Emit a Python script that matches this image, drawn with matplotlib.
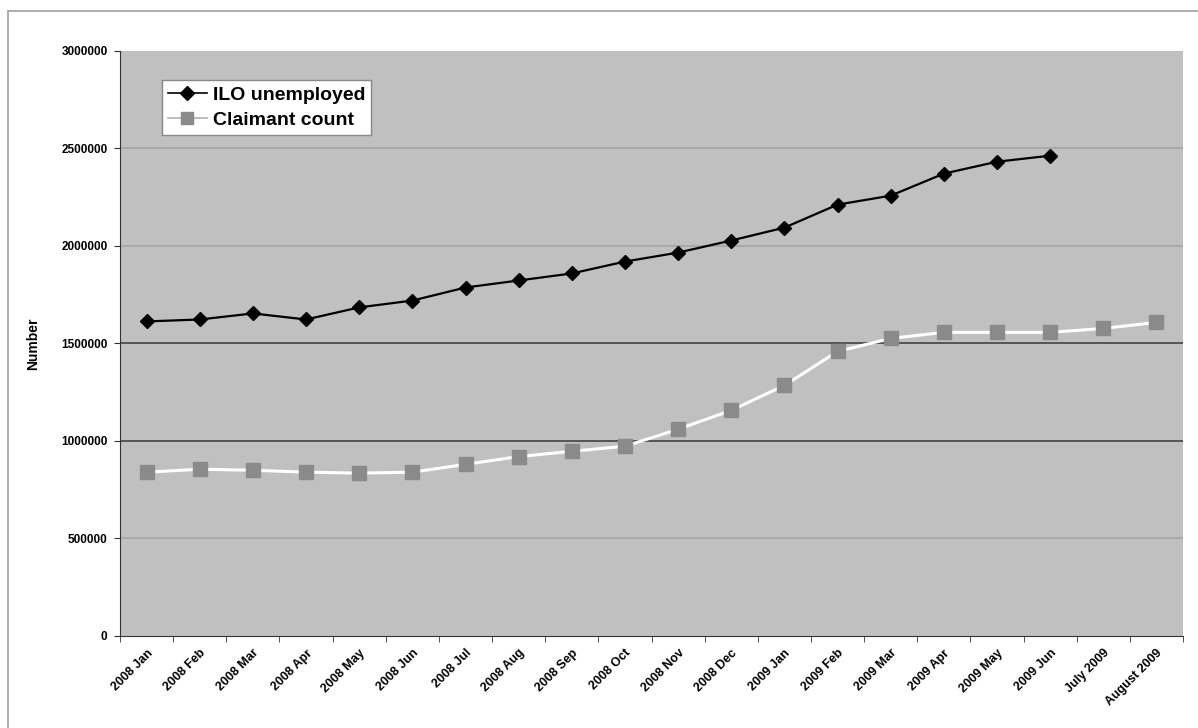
import numpy as np
import matplotlib.pyplot as plt
import matplotlib as mpl
from matplotlib.lines import Line2D

mpl.rcParams.update({'font.family': ['Liberation Sans', 'DejaVu Sans']})

months = ['2008 Jan', '2008 Feb', '2008 Mar', '2008 Apr', '2008 May', '2008 Jun',
          '2008 Jul', '2008 Aug', '2008 Sep', '2008 Oct', '2008 Nov', '2008 Dec',
          '2009 Jan', '2009 Feb', '2009 Mar', '2009 Apr', '2009 May', '2009 Jun',
          'July 2009', 'August 2009']

ilo = [1613000, 1623000, 1654000, 1623000, 1685000, 1720000, 1787000, 1823000,
       1859000, 1920000, 1966000, 2028000, 2094000, 2212000, 2258000, 2371000,
       2432000, 2463000, np.nan, np.nan]

claimant = [840000, 855000, 850000, 840000, 835000, 840000, 880000, 920000,
            947000, 973000, 1060000, 1157000, 1285000, 1459000, 1526000, 1557000,
            1557000, 1557000, 1577000, 1608000]

yticks = [0, 500000, 1000000, 1500000, 2000000, 2500000, 3000000]

CL_GREY = '#8a8a8a'

fig = plt.figure(figsize=(11.98, 7.28), dpi=100)
fig.patches.append(plt.Rectangle((0.007, -0.01), 1.0, 0.995, transform=fig.transFigure,
                                 fill=False, edgecolor='#a0a0a0', linewidth=1.2))
ax = fig.add_axes([0.1002, 0.1264, 0.8873, 0.8036])
ax.set_facecolor('#c0c0c0')

x = np.arange(len(months))

# gridlines (1M and 1.5M look darker in the reference)
for v in yticks[1:-1]:
    col = '#555555' if v in (1000000, 1500000) else '#a8a8a8'
    ax.axhline(v, color=col, linewidth=1.4, zorder=1)

ax.plot(x, claimant, color='white', linewidth=2.2, marker='s', markersize=10,
        markerfacecolor=CL_GREY, markeredgecolor=CL_GREY, zorder=3)
ax.plot(x, ilo, color='black', linewidth=1.6, marker='D', markersize=7.5,
        markerfacecolor='black', markeredgecolor='black', zorder=4)

ax.set_xlim(-0.5, len(months) - 0.5)
ax.set_ylim(0, 3000000)
ax.set_yticks(yticks)
ax.set_yticklabels([str(v) for v in yticks], fontsize=8.5, fontweight='bold')
ax.set_xticks(x)
ax.set_xticklabels(months, rotation=45, ha='right', rotation_mode='anchor',
                   fontsize=9, fontweight='bold')
ax.tick_params(axis='x', length=0, pad=8)
ax.set_xticks(np.arange(-0.5, len(months), 1), minor=True)
ax.tick_params(axis='x', which='minor', length=4, color='#333333')
ax.tick_params(axis='y', length=4, color='#333333', pad=5)

for s in ['top', 'right']:
    ax.spines[s].set_visible(False)
ax.spines['left'].set_color('#333333')
ax.spines['bottom'].set_color('#333333')

ax.set_ylabel('Number', fontsize=10, fontweight='bold', labelpad=15)

handles = [Line2D([], [], color='black', linewidth=1.2, marker='D', markersize=7,
                  markerfacecolor='black', markeredgecolor='black'),
           Line2D([], [], color='#b0b0b0', linewidth=1.2, marker='s', markersize=8,
                  markerfacecolor=CL_GREY, markeredgecolor=CL_GREY)]
leg = ax.legend(handles, ['ILO unemployed', 'Claimant count'], loc='upper left',
                bbox_to_anchor=(0.0395, 0.950), frameon=True, fancybox=False,
                prop={'size': 14, 'weight': 'bold'}, handlelength=2.0,
                borderpad=0.3, labelspacing=0.4, handletextpad=0.3,
                borderaxespad=0)
leg.get_frame().set_edgecolor('#888888')
leg.get_frame().set_facecolor('white')
leg.get_frame().set_alpha(1)

fig.savefig('out.png', dpi=100)
